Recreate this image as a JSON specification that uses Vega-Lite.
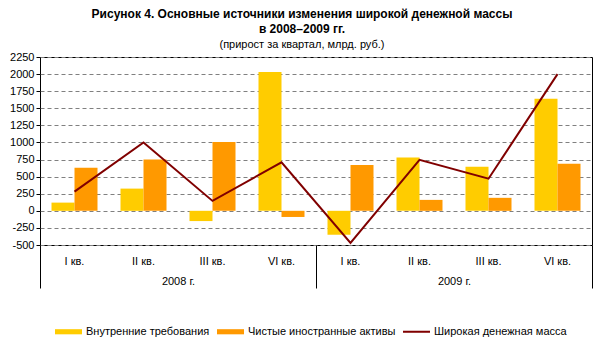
{
  "$schema": "https://vega.github.io/schema/vega-lite/v6.json",
  "width": 552,
  "height": 188,
  "autosize": {"type": "none"},
  "padding": {"left": 40, "top": 57, "right": 9, "bottom": 112},
  "background": "white",
  "config": {
    "font": "Liberation Sans",
    "view": {"stroke": "black", "strokeWidth": 1},
    "axis": {"labelColor": "black", "labelFontSize": 11, "labelFont": "Liberation Sans"},
    "legend": {"labelFontSize": 11, "labelColor": "black", "labelFont": "Liberation Sans"}
  },
  "title": {
    "text": ["Рисунок 4. Основные источники изменения широкой денежной массы", "в 2008–2009 гг."],
    "subtitle": "(прирост за квартал, млрд. руб.)",
    "anchor": "middle",
    "frame": "group",
    "dx": -14,
    "fontSize": 12,
    "fontWeight": "bold",
    "color": "black",
    "lineHeight": 15,
    "subtitleFontSize": 11,
    "subtitleColor": "black",
    "subtitlePadding": 3,
    "offset": 0
  },
  "data": {
    "values": [
      {"cat": "2008|I кв.", "year": "2008 г.", "series": "Внутренние требования", "value": 120},
      {"cat": "2008|II кв.", "year": "2008 г.", "series": "Внутренние требования", "value": 325},
      {"cat": "2008|III кв.", "year": "2008 г.", "series": "Внутренние требования", "value": -150},
      {"cat": "2008|VI кв.", "year": "2008 г.", "series": "Внутренние требования", "value": 2030},
      {"cat": "2009|I кв.", "year": "2009 г.", "series": "Внутренние требования", "value": -350},
      {"cat": "2009|II кв.", "year": "2009 г.", "series": "Внутренние требования", "value": 780},
      {"cat": "2009|III кв.", "year": "2009 г.", "series": "Внутренние требования", "value": 645},
      {"cat": "2009|VI кв.", "year": "2009 г.", "series": "Внутренние требования", "value": 1640},
      {"cat": "2008|I кв.", "year": "2008 г.", "series": "Чистые иностранные активы", "value": 630},
      {"cat": "2008|II кв.", "year": "2008 г.", "series": "Чистые иностранные активы", "value": 750},
      {"cat": "2008|III кв.", "year": "2008 г.", "series": "Чистые иностранные активы", "value": 1005},
      {"cat": "2008|VI кв.", "year": "2008 г.", "series": "Чистые иностранные активы", "value": -90},
      {"cat": "2009|I кв.", "year": "2009 г.", "series": "Чистые иностранные активы", "value": 670},
      {"cat": "2009|II кв.", "year": "2009 г.", "series": "Чистые иностранные активы", "value": 160},
      {"cat": "2009|III кв.", "year": "2009 г.", "series": "Чистые иностранные активы", "value": 190},
      {"cat": "2009|VI кв.", "year": "2009 г.", "series": "Чистые иностранные активы", "value": 690},
      {"cat": "2008|I кв.", "year": "2008 г.", "series": "Широкая денежная масса", "value": 280},
      {"cat": "2008|II кв.", "year": "2008 г.", "series": "Широкая денежная масса", "value": 1000},
      {"cat": "2008|III кв.", "year": "2008 г.", "series": "Широкая денежная масса", "value": 145},
      {"cat": "2008|VI кв.", "year": "2008 г.", "series": "Широкая денежная масса", "value": 710},
      {"cat": "2009|I кв.", "year": "2009 г.", "series": "Широкая денежная масса", "value": -470},
      {"cat": "2009|II кв.", "year": "2009 г.", "series": "Широкая денежная масса", "value": 745},
      {"cat": "2009|III кв.", "year": "2009 г.", "series": "Широкая денежная масса", "value": 470},
      {"cat": "2009|VI кв.", "year": "2009 г.", "series": "Широкая денежная масса", "value": 2000}
    ]
  },
  "layer": [
    {
      "encoding": {
        "x": {
          "field": "cat",
          "type": "nominal",
          "scale": {
            "type": "band",
            "domain": ["2008|I кв.", "2008|II кв.", "2008|III кв.", "2008|VI кв.", "2009|I кв.", "2009|II кв.", "2009|III кв.", "2009|VI кв."],
            "paddingInner": 0,
            "paddingOuter": 0
          },
          "axis": {
            "orient": "bottom",
            "title": null,
            "domain": false,
            "ticks": false,
            "grid": false,
            "labelAngle": 0,
            "labelPadding": 10,
            "labelExpr": "split(datum.label, '|')[1]"
          }
        },
        "y": {
          "field": "value",
          "type": "quantitative",
          "scale": {"domain": [-500, 2250], "nice": false, "zero": false},
          "axis": {
            "title": null,
            "values": [-500, -250, 0, 250, 500, 750, 1000, 1250, 1500, 1750, 2000, 2250],
            "labelExpr": "'' + datum.value",
            "domain": false,
            "ticks": true,
            "tickSize": 4,
            "tickColor": "black",
            "labelPadding": 2,
            "grid": true,
            "gridColor": "#808080",
            "gridDash": [4, 3],
            "gridWidth": 1
          }
        }
      },
      "layer": [
        {
          "transform": [{"filter": "datum.series !== 'Широкая денежная масса'"}],
          "mark": {"type": "bar"},
          "encoding": {
            "xOffset": {
              "field": "series",
              "type": "nominal",
              "scale": {"domain": ["Внутренние требования", "Чистые иностранные активы"], "paddingInner": 0, "paddingOuter": 0.5}
            },
            "color": {
              "field": "series",
              "type": "nominal",
              "scale": {
                "domain": ["Внутренние требования", "Чистые иностранные активы", "Широкая денежная масса"],
                "range": ["#FFCC00", "#FF9900", "#800000"]
              },
              "legend": {
                "title": null,
                "orient": "none",
                "direction": "horizontal",
                "legendX": 15,
                "legendY": 261,
                "columnPadding": 7,
                "labelOffset": 4,
                "symbolSize": 729,
                "encode": {
                  "symbols": {
                    "update": {
                      "shape": {"signal": "datum.value === 'Широкая денежная масса' ? 'M-1,-0.075H1V0.075H-1Z' : 'M-1,-0.19H1V0.19H-1Z'"},
                      "fill": {"signal": "scale('color', datum.value)"},
                      "stroke": {"value": "transparent"},
                      "strokeWidth": {"value": 0},
                      "opacity": {"value": 1}
                    }
                  }
                }
              }
            }
          }
        },
        {
          "mark": {"type": "rule", "color": "black", "strokeWidth": 1},
          "encoding": {"y": {"datum": 0}}
        },
        {
          "transform": [{"filter": "datum.series === 'Широкая денежная масса'"}],
          "mark": {"type": "line", "strokeWidth": 2},
          "encoding": {
            "color": {"field": "series", "type": "nominal"}
          }
        }
      ]
    },
    {
      "mark": {"type": "bar", "opacity": 0},
      "encoding": {
        "x": {
          "field": "year",
          "type": "nominal",
          "scale": {"type": "band", "paddingInner": 0, "paddingOuter": 0},
          "axis": {
            "orient": "bottom",
            "title": null,
            "domain": false,
            "grid": false,
            "ticks": true,
            "tickBand": "extent",
            "tickSize": 43,
            "tickColor": "black",
            "labelAngle": 0,
            "labelPadding": -13
          }
        }
      }
    }
  ],
  "resolve": {"scale": {"x": "independent"}, "axis": {"x": "independent"}}
}
